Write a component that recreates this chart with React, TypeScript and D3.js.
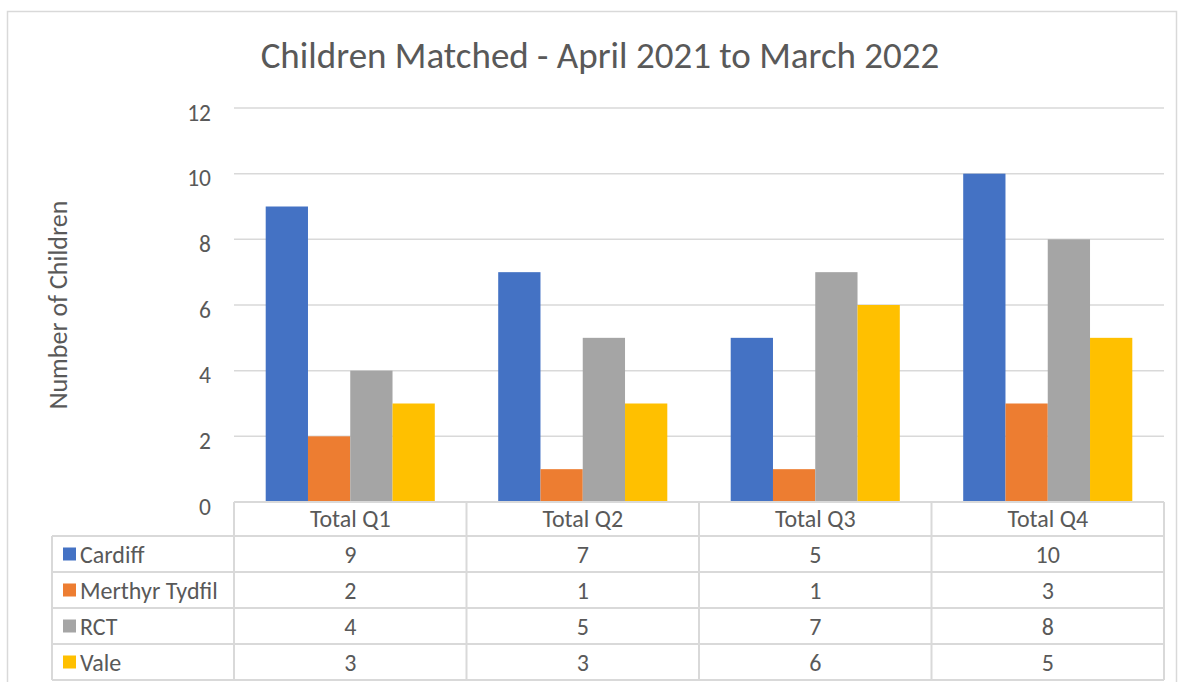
import React, { useRef, useEffect } from 'react'
import * as d3 from 'd3'

const quarters = ['Total Q1', 'Total Q2', 'Total Q3', 'Total Q4']
const seriesNames = ['Cardiff', 'Merthyr Tydfil', 'RCT', 'Vale']
const cardiff = [9, 7, 5, 10]
const merthyr = [2, 1, 1, 3]
const rct = [4, 5, 7, 8]
const vale = [3, 3, 6, 5]
const yTicks = [0, 2, 4, 6, 8, 10, 12]

const colors = ['#4472c4', '#ed7d31', '#a5a5a5', '#ffc000']
const font = "Calibri, Carlito, Lato, sans-serif"
const textColor = '#595959'
const lineColor = '#d9d9d9'

export default function App() {
    const svgRef = useRef<SVGSVGElement>(null)

    useEffect(() => {
        const svg = d3.select(svgRef.current)
        svg.selectAll('*').remove()

        const values = [cardiff, merthyr, rct, vale]
        const left = 234, right = 1164, top = 108, bottom = 502
        const headH = 34, rowH = 36
        const tableLeft = 52
        const rowTop = (r: number) => r === 0 ? bottom : bottom + headH + (r - 1) * rowH

        // chart border
        svg.append('rect')
            .attr('x', 7.5).attr('y', 11.5)
            .attr('width', 1169).attr('height', 690)
            .attr('fill', 'white').attr('stroke', lineColor).attr('stroke-width', 1.5)

        svg.append('text')
            .attr('x', 600).attr('y', 68)
            .attr('text-anchor', 'middle')
            .attr('font-family', font).attr('font-size', 37)
            .attr('fill', textColor)
            .text('Children Matched - April 2021 to March 2022')

        const x = d3.scaleBand().domain(quarters).range([left, right])
        const y = d3.scaleLinear().domain([0, 12]).range([bottom, top])
        // Excel gap width 150%
        const barW = x.bandwidth() / (4 + 1.5)
        const inner = d3.scaleBand().domain(seriesNames)
            .range([barW * 0.75, barW * 0.75 + barW * 4])

        svg.append('g').selectAll('line')
            .data(yTicks.filter(t => t > 0))
            .join('line')
            .attr('x1', left).attr('x2', right)
            .attr('y1', d => y(d)).attr('y2', d => y(d))
            .attr('stroke', lineColor).attr('stroke-width', 1.5)

        svg.append('g').selectAll('text')
            .data(yTicks)
            .join('text')
            .attr('x', 211).attr('y', d => y(d) + 12.5)
            .attr('text-anchor', 'end')
            .attr('font-family', font).attr('font-size', 23.5)
            .attr('fill', textColor)
            .text(d => d)

        svg.append('text')
            .attr('transform', `translate(67,${(top + bottom) / 2}) rotate(-90)`)
            .attr('text-anchor', 'middle')
            .attr('font-family', font).attr('font-size', 26)
            .attr('fill', textColor)
            .text('Number of Children')

        values.forEach((vals, si) => {
            svg.append('g').selectAll('rect')
                .data(vals)
                .join('rect')
                .attr('x', (d, i) => x(quarters[i])! + inner(seriesNames[si])!)
                .attr('width', inner.bandwidth())
                .attr('y', d => y(d))
                .attr('height', d => y(0) - y(d))
                .attr('fill', colors[si])
        })

        // data table
        const table = svg.append('g')
            .attr('stroke', lineColor).attr('stroke-width', 2).attr('fill', 'none')
        const tableBottom = rowTop(5)
        table.append('line').attr('x1', left).attr('x2', right).attr('y1', bottom).attr('y2', bottom)
        d3.range(1, 6).forEach(r => {
            table.append('line')
                .attr('x1', tableLeft).attr('x2', right)
                .attr('y1', rowTop(r)).attr('y2', rowTop(r))
        })
        table.append('line').attr('x1', tableLeft).attr('x2', tableLeft)
            .attr('y1', rowTop(1)).attr('y2', tableBottom)
        quarters.forEach(q => {
            table.append('line').attr('x1', x(q)!).attr('x2', x(q)!)
                .attr('y1', bottom).attr('y2', tableBottom)
        })
        table.append('line').attr('x1', right).attr('x2', right)
            .attr('y1', bottom).attr('y2', tableBottom)

        svg.append('g').selectAll('text')
            .data(quarters)
            .join('text')
            .attr('x', d => x(d)! + x.bandwidth() / 2)
            .attr('y', bottom + headH / 2 + 8)
            .attr('text-anchor', 'middle')
            .attr('font-family', font).attr('font-size', 24)
            .attr('fill', textColor)
            .text(d => d)

        values.forEach((vals, si) => {
            const rowY = rowTop(si + 1)
            svg.append('rect')
                .attr('x', 63).attr('y', rowY + rowH / 2 - 6.5)
                .attr('width', 13).attr('height', 13)
                .attr('fill', colors[si])
            svg.append('text')
                .attr('x', 80).attr('y', rowY + rowH / 2 + 8.5)
                .attr('font-family', font).attr('font-size', 24)
                .attr('fill', textColor)
                .text(seriesNames[si])
            svg.append('g').selectAll('text')
                .data(vals)
                .join('text')
                .attr('x', (d, i) => x(quarters[i])! + x.bandwidth() / 2)
                .attr('y', rowY + rowH / 2 + 8.5)
                .attr('text-anchor', 'middle')
                .attr('font-family', font).attr('font-size', 24)
                .attr('fill', textColor)
                .text(d => d)
        })
    }, [])

    return (
        <svg ref={svgRef} width={1184} height={682}
            style={{ position: 'absolute', left: 0, top: 0, background: 'white' }} />
    )
}
